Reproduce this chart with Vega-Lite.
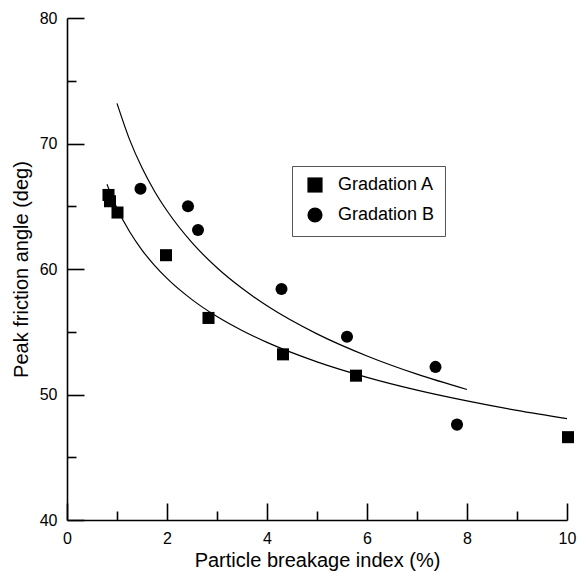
{
  "$schema": "https://vega.github.io/schema/vega-lite/v6.json",
  "width": 500,
  "height": 502,
  "autosize": {"type": "none"},
  "padding": {"left": 67, "top": 18, "right": 12, "bottom": 52},
  "config": {
    "view": {"stroke": null},
    "font": "Liberation Sans",
    "axis": {
      "grid": false,
      "domainColor": "black",
      "domainWidth": 1.6,
      "tickColor": "black",
      "tickOpacity": 1,
      "tickWidth": 1.6,
      "labelColor": "black",
      "labelFontSize": 16,
      "titleColor": "black",
      "titleFontSize": 20,
      "titleFontWeight": "normal"
    },
    "legend": {"strokeWidth": 1}
  },
  "datasets": {
    "points": [
      {"series": "Gradation A", "x": 0.83, "y": 65.9},
      {"series": "Gradation A", "x": 0.86, "y": 65.4},
      {"series": "Gradation A", "x": 1.01, "y": 64.5},
      {"series": "Gradation A", "x": 1.98, "y": 61.1},
      {"series": "Gradation A", "x": 2.83, "y": 56.1},
      {"series": "Gradation A", "x": 4.32, "y": 53.2},
      {"series": "Gradation A", "x": 5.78, "y": 51.5},
      {"series": "Gradation A", "x": 10.02, "y": 46.6},
      {"series": "Gradation B", "x": 1.47, "y": 66.4},
      {"series": "Gradation B", "x": 2.42, "y": 65.0},
      {"series": "Gradation B", "x": 2.62, "y": 63.1},
      {"series": "Gradation B", "x": 4.29, "y": 58.4},
      {"series": "Gradation B", "x": 5.6, "y": 54.6},
      {"series": "Gradation B", "x": 7.37, "y": 52.2},
      {"series": "Gradation B", "x": 7.8, "y": 47.6}
    ],
    "curves": [
      {"series": "Gradation A", "x": 0.8, "y": 66.75},
      {"series": "Gradation A", "x": 0.9, "y": 65.73},
      {"series": "Gradation A", "x": 1.0, "y": 64.84},
      {"series": "Gradation A", "x": 1.25, "y": 62.99},
      {"series": "Gradation A", "x": 1.5, "y": 61.51},
      {"series": "Gradation A", "x": 1.75, "y": 60.29},
      {"series": "Gradation A", "x": 2.0, "y": 59.25},
      {"series": "Gradation A", "x": 2.5, "y": 57.56},
      {"series": "Gradation A", "x": 3.0, "y": 56.21},
      {"series": "Gradation A", "x": 3.5, "y": 55.1},
      {"series": "Gradation A", "x": 4.0, "y": 54.15},
      {"series": "Gradation A", "x": 5.0, "y": 52.6},
      {"series": "Gradation A", "x": 6.0, "y": 51.37},
      {"series": "Gradation A", "x": 7.0, "y": 50.35},
      {"series": "Gradation A", "x": 8.0, "y": 49.49},
      {"series": "Gradation A", "x": 9.0, "y": 48.73},
      {"series": "Gradation A", "x": 10.0, "y": 48.07},
      {"series": "Gradation B", "x": 1.0, "y": 73.2},
      {"series": "Gradation B", "x": 1.25, "y": 70.33},
      {"series": "Gradation B", "x": 1.5, "y": 68.06},
      {"series": "Gradation B", "x": 1.75, "y": 66.2},
      {"series": "Gradation B", "x": 2.0, "y": 64.64},
      {"series": "Gradation B", "x": 2.5, "y": 62.1},
      {"series": "Gradation B", "x": 3.0, "y": 60.1},
      {"series": "Gradation B", "x": 3.5, "y": 58.46},
      {"series": "Gradation B", "x": 4.0, "y": 57.07},
      {"series": "Gradation B", "x": 5.0, "y": 54.83},
      {"series": "Gradation B", "x": 6.0, "y": 53.07},
      {"series": "Gradation B", "x": 7.0, "y": 51.62},
      {"series": "Gradation B", "x": 8.0, "y": 50.4}
    ]
  },
  "encoding": {
    "x": {
      "field": "x",
      "type": "quantitative",
      "scale": {"domain": [0, 10], "nice": false, "zero": false},
      "axis": {
        "title": "Particle breakage index (%)",
        "values": [0, 1, 2, 3, 4, 5, 6, 7, 8, 9, 10],
        "tickSize": {"condition": {"test": "datum.value % 2 === 0", "value": -17}, "value": -9},
        "labelExpr": "datum.value % 2 === 0 ? datum.label : ''",
        "labelPadding": 27,
        "titlePadding": 4,
        "labelFlush": false
      }
    },
    "y": {
      "field": "y",
      "type": "quantitative",
      "scale": {"domain": [40, 80], "nice": false, "zero": false},
      "axis": {
        "title": "Peak friction angle (deg)",
        "values": [40, 45, 50, 55, 60, 65, 70, 75, 80],
        "tickSize": {"condition": {"test": "datum.value % 10 === 0", "value": -17}, "value": -9},
        "labelExpr": "datum.value % 10 === 0 ? datum.label : ''",
        "labelPadding": 27,
        "titlePadding": 8,
        "labelFlush": false
      }
    }
  },
  "layer": [
    {
      "data": {"name": "curves"},
      "mark": {"type": "line", "interpolate": "monotone", "color": "black", "strokeWidth": 1.2},
      "encoding": {"detail": {"field": "series", "type": "nominal"}}
    },
    {
      "data": {"name": "points"},
      "mark": {"type": "point", "filled": true, "color": "black", "opacity": 1, "size": 145},
      "encoding": {
        "shape": {
          "field": "series",
          "type": "nominal",
          "scale": {"domain": ["Gradation A", "Gradation B"], "range": ["square", "circle"]},
          "legend": {
            "title": null,
            "orient": "none",
            "legendX": 225,
            "legendY": 148,
            "padding": 10,
            "strokeColor": "#555555",
            "fillColor": "white",
            "symbolSize": 230,
            "symbolOpacity": 1,
            "symbolFillColor": "black",
            "symbolStrokeColor": "black",
            "labelFontSize": 18,
            "labelColor": "black",
            "labelOffset": 14,
            "rowPadding": 8,
            "symbolOffset": 4
          }
        }
      }
    }
  ]
}
